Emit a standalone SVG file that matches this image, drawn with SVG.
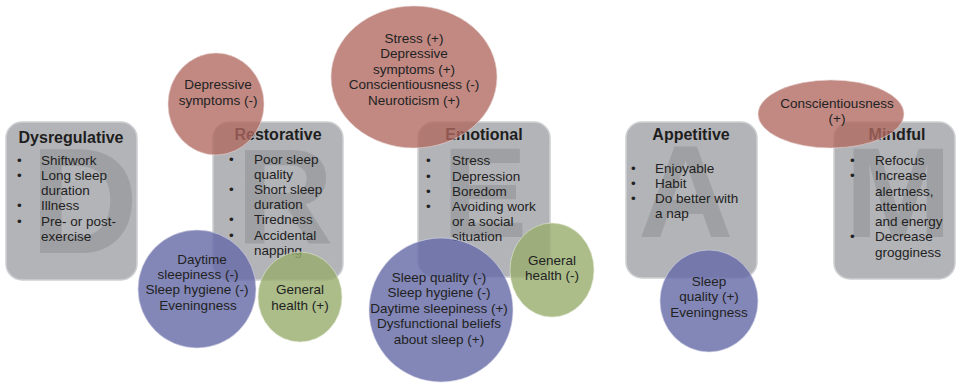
<svg xmlns="http://www.w3.org/2000/svg" width="957" height="385" viewBox="0 0 957 385">
<style>
.box{fill:#b3b4b8;stroke:#cfd0d3;stroke-width:1.5}
.wm{font-family:"Liberation Sans",Arial,sans-serif;font-weight:bold;fill:#000;fill-opacity:0.11}
.title{font-family:"Liberation Sans",Arial,sans-serif;font-weight:bold;font-size:16px;fill:#1e1e1e;text-anchor:middle}
.t{font-family:"Liberation Sans",Arial,sans-serif;font-size:13.5px;fill:#222}
.c{font-family:"Liberation Sans",Arial,sans-serif;font-size:13.5px;fill:#222;text-anchor:middle}
.red{fill:#b0685f;fill-opacity:0.78;stroke:#e8d6d3;stroke-opacity:0.6;stroke-width:1}
.blue{fill:#6469a6;fill-opacity:0.8;stroke:#d8d9ea;stroke-opacity:0.6;stroke-width:1}
.green{fill:#97ac6d;fill-opacity:0.8;stroke:#e2e9d3;stroke-opacity:0.6;stroke-width:1}
</style>
<rect width="957" height="385" fill="#fff"/>

<g id="dysregulative">
<rect class="box" x="6" y="122" width="131" height="158" rx="16"/>
<text class="wm" x="30" y="253" font-size="150">D</text>
<text class="title" x="71" y="143">Dysregulative</text>
<g class="t">
<text x="17" y="165">•</text><text x="41" y="165">Shiftwork</text>
<text x="17" y="180">•</text><text x="41" y="180">Long sleep</text>
<text x="41" y="195">duration</text>
<text x="17" y="210">•</text><text x="41" y="210">Illness</text>
<text x="17" y="226">•</text><text x="41" y="226">Pre- or post-</text>
<text x="41" y="241">exercise</text>
</g>
</g>

<g id="restorative">
<rect class="box" x="213" y="122" width="130" height="158" rx="16"/>
<text class="wm" x="236" y="243" font-size="135">R</text>
<text class="title" x="278" y="140">Restorative</text>
<g class="t">
<text x="229" y="164">•</text><text x="254" y="164">Poor sleep</text>
<text x="254" y="179">quality</text>
<text x="229" y="194">•</text><text x="254" y="194">Short sleep</text>
<text x="254" y="209">duration</text>
<text x="229" y="224">•</text><text x="254" y="224">Tiredness</text>
<text x="229" y="240">•</text><text x="254" y="240">Accidental</text>
<text x="254" y="255">napping</text>
</g>
</g>

<g id="emotional">
<rect class="box" x="418" y="122" width="132" height="155" rx="16"/>
<text class="wm" x="442" y="237" font-size="128">E</text>
<text class="title" x="484" y="140">Emotional</text>
<g class="t">
<text x="426" y="165">•</text><text x="452" y="165">Stress</text>
<text x="426" y="181">•</text><text x="452" y="181">Depression</text>
<text x="426" y="196">•</text><text x="452" y="196">Boredom</text>
<text x="426" y="211">•</text><text x="452" y="211">Avoiding work</text>
<text x="452" y="226">or a social</text>
<text x="452" y="241">situation</text>
</g>
</g>

<g id="appetitive">
<rect class="box" x="626" y="122" width="131" height="156" rx="16"/>
<text class="wm" x="638" y="237" font-size="132">A</text>
<text class="title" x="691" y="140">Appetitive</text>
<g class="t">
<text x="631" y="173">•</text><text x="655" y="173">Enjoyable</text>
<text x="631" y="188">•</text><text x="655" y="188">Habit</text>
<text x="631" y="203">•</text><text x="655" y="203">Do better with</text>
<text x="655" y="218">a nap</text>
</g>
</g>

<g id="mindful">
<rect class="box" x="834" y="122" width="121" height="157" rx="16"/>
<text class="wm" x="845" y="237" font-size="128">M</text>
<text class="title" x="897" y="140">Mindful</text>
<g class="t">
<text x="850" y="165">•</text><text x="875" y="165">Refocus</text>
<text x="850" y="180">•</text><text x="875" y="180">Increase</text>
<text x="875" y="196">alertness,</text>
<text x="875" y="211">attention</text>
<text x="875" y="226">and energy</text>
<text x="850" y="241">•</text><text x="875" y="241">Decrease</text>
<text x="875" y="257">grogginess</text>
</g>
</g>

<g id="red-restorative">
<ellipse class="red" cx="216" cy="104" rx="48" ry="51"/>
<text class="c" x="218" y="89">Depressive</text>
<text class="c" x="218" y="105">symptoms (-)</text>
</g>

<g id="red-emotional">
<ellipse class="red" cx="414" cy="77" rx="83" ry="71"/>
<text class="c" x="414" y="43">Stress (+)</text>
<text class="c" x="414" y="58">Depressive</text>
<text class="c" x="414" y="74">symptoms (+)</text>
<text class="c" x="414" y="89">Conscientiousness (-)</text>
<text class="c" x="414" y="105">Neuroticism (+)</text>
</g>

<g id="red-mindful">
<ellipse class="red" cx="831" cy="114" rx="73" ry="34"/>
<text class="c" x="837" y="108">Conscientiousness</text>
<text class="c" x="837" y="123">(+)</text>
</g>

<g id="blue-restorative">
<circle class="blue" cx="197" cy="289" r="59"/>
<text class="c" x="202" y="264">Daytime</text>
<text class="c" x="198" y="279">sleepiness (-)</text>
<text class="c" x="197" y="294">Sleep hygiene (-)</text>
<text class="c" x="198" y="310">Eveningness</text>
</g>

<g id="green-restorative">
<ellipse class="green" cx="300" cy="297" rx="42" ry="45"/>
<text class="c" x="300" y="294">General</text>
<text class="c" x="300" y="310">health (+)</text>
</g>

<g id="blue-emotional">
<ellipse class="blue" cx="441" cy="310" rx="72" ry="72"/>
<text class="c" x="439" y="282">Sleep quality (-)</text>
<text class="c" x="439" y="297">Sleep hygiene (-)</text>
<text class="c" x="439" y="313">Daytime sleepiness (+)</text>
<text class="c" x="439" y="328">Dysfunctional beliefs</text>
<text class="c" x="439" y="344">about sleep (+)</text>
</g>

<g id="green-emotional">
<ellipse class="green" cx="552" cy="270" rx="42" ry="47"/>
<text class="c" x="552" y="265">General</text>
<text class="c" x="552" y="280">health (-)</text>
</g>

<g id="blue-appetitive">
<ellipse class="blue" cx="709" cy="301" rx="49" ry="51"/>
<text class="c" x="709" y="286">Sleep</text>
<text class="c" x="709" y="301">quality (+)</text>
<text class="c" x="709" y="317">Eveningness</text>
</g>

<g id="connectors"></g>
</svg>
